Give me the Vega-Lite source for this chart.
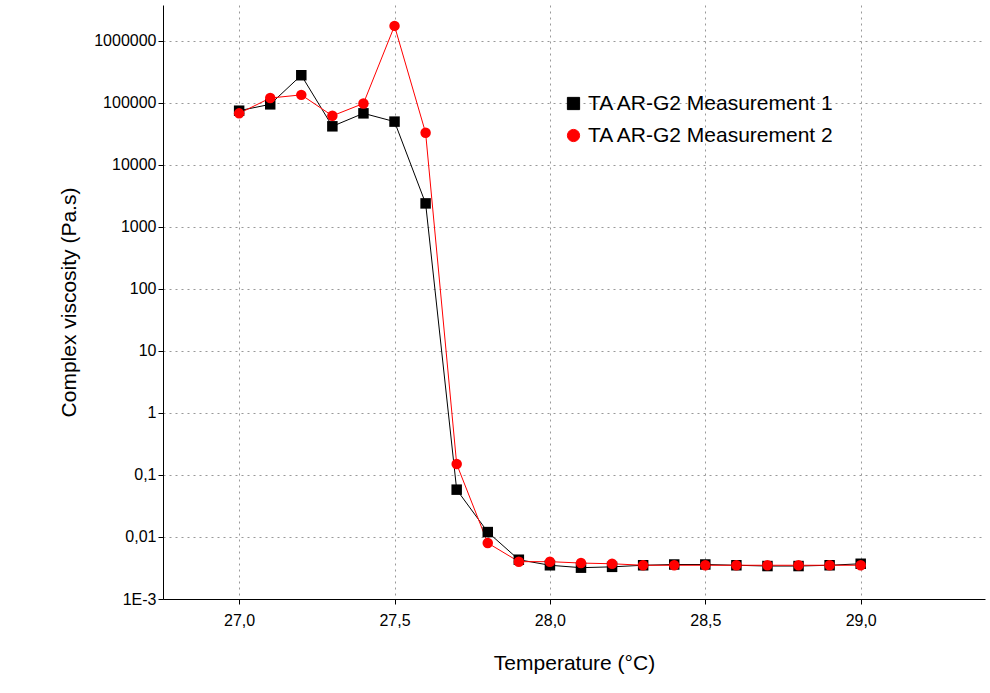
{
"$schema":"https://vega.github.io/schema/vega-lite/v6.json",
"width":990,"height":693,
"autosize":{"type":"fit","contains":"padding"},
"padding":{"left":58,"top":5,"right":5,"bottom":20},
"config":{"view":{"stroke":null},"font":"Liberation Sans"},
"data":{"values":[
{"t":27.0,"v":75000,"s":"TA AR-G2 Measurement 1"},
{"t":27.1,"v":95000,"s":"TA AR-G2 Measurement 1"},
{"t":27.2,"v":280000,"s":"TA AR-G2 Measurement 1"},
{"t":27.3,"v":42000,"s":"TA AR-G2 Measurement 1"},
{"t":27.4,"v":68000,"s":"TA AR-G2 Measurement 1"},
{"t":27.5,"v":50000,"s":"TA AR-G2 Measurement 1"},
{"t":27.6,"v":2400,"s":"TA AR-G2 Measurement 1"},
{"t":27.7,"v":0.058,"s":"TA AR-G2 Measurement 1"},
{"t":27.8,"v":0.012,"s":"TA AR-G2 Measurement 1"},
{"t":27.9,"v":0.0043,"s":"TA AR-G2 Measurement 1"},
{"t":28.0,"v":0.0035,"s":"TA AR-G2 Measurement 1"},
{"t":28.1,"v":0.0032,"s":"TA AR-G2 Measurement 1"},
{"t":28.2,"v":0.0033,"s":"TA AR-G2 Measurement 1"},
{"t":28.3,"v":0.0035,"s":"TA AR-G2 Measurement 1"},
{"t":28.4,"v":0.0036,"s":"TA AR-G2 Measurement 1"},
{"t":28.5,"v":0.0036,"s":"TA AR-G2 Measurement 1"},
{"t":28.6,"v":0.0035,"s":"TA AR-G2 Measurement 1"},
{"t":28.7,"v":0.0034,"s":"TA AR-G2 Measurement 1"},
{"t":28.8,"v":0.0034,"s":"TA AR-G2 Measurement 1"},
{"t":28.9,"v":0.0035,"s":"TA AR-G2 Measurement 1"},
{"t":29.0,"v":0.0037,"s":"TA AR-G2 Measurement 1"},
{"t":27.0,"v":68000,"s":"TA AR-G2 Measurement 2"},
{"t":27.1,"v":120000,"s":"TA AR-G2 Measurement 2"},
{"t":27.2,"v":135000,"s":"TA AR-G2 Measurement 2"},
{"t":27.3,"v":62000,"s":"TA AR-G2 Measurement 2"},
{"t":27.4,"v":98000,"s":"TA AR-G2 Measurement 2"},
{"t":27.5,"v":1750000,"s":"TA AR-G2 Measurement 2"},
{"t":27.6,"v":33000,"s":"TA AR-G2 Measurement 2"},
{"t":27.7,"v":0.15,"s":"TA AR-G2 Measurement 2"},
{"t":27.8,"v":0.008,"s":"TA AR-G2 Measurement 2"},
{"t":27.9,"v":0.004,"s":"TA AR-G2 Measurement 2"},
{"t":28.0,"v":0.004,"s":"TA AR-G2 Measurement 2"},
{"t":28.1,"v":0.0038,"s":"TA AR-G2 Measurement 2"},
{"t":28.2,"v":0.0037,"s":"TA AR-G2 Measurement 2"},
{"t":28.3,"v":0.0035,"s":"TA AR-G2 Measurement 2"},
{"t":28.4,"v":0.0035,"s":"TA AR-G2 Measurement 2"},
{"t":28.5,"v":0.0035,"s":"TA AR-G2 Measurement 2"},
{"t":28.6,"v":0.0035,"s":"TA AR-G2 Measurement 2"},
{"t":28.7,"v":0.0035,"s":"TA AR-G2 Measurement 2"},
{"t":28.8,"v":0.0035,"s":"TA AR-G2 Measurement 2"},
{"t":28.9,"v":0.0035,"s":"TA AR-G2 Measurement 2"},
{"t":29.0,"v":0.0035,"s":"TA AR-G2 Measurement 2"}
]},
"mark":{"type":"line","point":{"size":110,"filled":true,"opacity":1},"strokeWidth":1},
"encoding":{
"x":{"field":"t","type":"quantitative","scale":{"domain":[26.755,29.40],"nice":false,"zero":false},
 "axis":{"title":"Temperature (°C)","values":[27,27.5,28,28.5,29],"labelExpr":"replace(format(datum.value,'.1f'),'.',',')","grid":true,"gridDash":[2,4],"gridColor":"#999","domainColor":"#000","tickColor":"#000","labelFontSize":16,"titleFontSize":21,"titleFontWeight":"normal","labelColor":"#000","titleColor":"#000","titlePadding":24,"labelPadding":8}},
"y":{"field":"v","type":"quantitative","scale":{"type":"log","domain":[0.001,3800000],"nice":false},
 "axis":{"title":"Complex viscosity (Pa.s)","values":[0.001,0.01,0.1,1,10,100,1000,10000,100000,1000000],"labelExpr":"datum.value<0.002?'1E-3':(datum.value>=1?format(datum.value,'d'):replace(format(datum.value,'~g'),'.',','))","grid":true,"gridDash":[2,4],"gridColor":"#999","domainColor":"#000","tickColor":"#000","labelFontSize":16,"titleFontSize":21,"titleFontWeight":"normal","labelColor":"#000","titleColor":"#000","titlePadding":14}},
"color":{"field":"s","type":"nominal","scale":{"range":["#000000","#ff0000"]},
 "legend":{"title":null,"orient":"none","legendX":400,"legendY":88,"labelFontSize":21,"labelColor":"#000","labelLimit":500,"symbolSize":150,"symbolStrokeWidth":1,"rowPadding":10,
  "encode":{"symbols":{"update":{"shape":{"signal":"datum.value=='TA AR-G2 Measurement 1'?'square':'circle'"}}}}}},
"shape":{"field":"s","type":"nominal","scale":{"range":["square","circle"]},"legend":null}
}
}
